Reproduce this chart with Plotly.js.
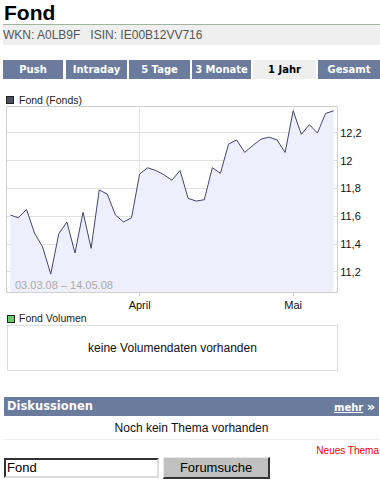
<!DOCTYPE html>
<html>
<head>
<meta charset="utf-8">
<script src="https://cdn.plot.ly/plotly-3.0.1.min.js"></script>
<style>
  html, body { margin:0; padding:0; background:#fff; width:380px; height:483px; overflow:hidden; }
  body { position:relative; font-family:"Liberation Sans", Arial, sans-serif; }
  .abs { position:absolute; }
  .tab { position:absolute; top:60px; height:19px; line-height:19px; background:#6b7b9d; color:#fff;
         font-family:"DejaVu Sans", Verdana, sans-serif; font-weight:bold; font-size:10px; text-align:center; }
  .tab.active { background:#efefef; color:#000; }
  .sq { position:absolute; width:6px; height:6px; border:1px solid #222; z-index:3; }
  .lg { position:absolute; font-size:10.5px; color:#222; line-height:12px; z-index:3; }
  #chart { z-index:1; }
</style>
</head>
<body>
<div class="abs" style="left:4px;top:2px;font-family:'Liberation Sans Narrow','Liberation Sans',Arial,sans-serif;font-weight:bold;font-size:21px;line-height:21px;color:#000;">Fond</div>
<div class="abs" style="left:3px;top:24px;width:377px;height:1px;background:#9fb59f;"></div>
<div class="abs" style="left:3px;top:25px;width:377px;height:20px;background:#efefef;"></div>
<div class="abs" style="left:3px;top:25px;height:20px;line-height:20px;font-size:12px;color:#555;white-space:pre;">WKN: A0LB9F   ISIN: IE00B12VV716</div>

<div class="tab" style="left:3px;width:60px;">Push</div>
<div class="tab" style="left:66px;width:61px;">Intraday</div>
<div class="tab" style="left:129px;width:61px;">5 Tage</div>
<div class="tab" style="left:192px;width:59px;">3 Monate</div>
<div class="tab active" style="left:253px;width:63px;">1 Jahr</div>
<div class="tab" style="left:318px;width:62px;">Gesamt</div>

<div id="chart" class="abs" style="left:0;top:100px;width:380px;height:215px;"></div>

<div class="sq" style="left:6px;top:96px;background:#4d4d66;"></div>
<div class="lg" style="left:19px;top:94px;">Fond (Fonds)</div>

<div class="sq" style="left:7px;top:315px;background:#66cc66;"></div>
<div class="lg" style="left:19px;top:312px;">Fond Volumen</div>
<div class="abs" style="left:7px;top:325px;width:329px;height:44px;border:1px solid #dddddd;text-align:center;line-height:44px;font-size:12px;color:#111;">keine Volumendaten vorhanden</div>

<div class="abs" style="left:4px;top:397px;width:375px;height:19px;background:#6b7b9d;"></div>
<div class="abs" style="left:7px;top:397px;height:19px;line-height:19px;color:#fff;font-family:'DejaVu Sans',Verdana,sans-serif;font-weight:bold;font-size:11.5px;">Diskussionen</div>
<div class="abs" style="left:334px;top:397px;height:19px;line-height:19px;color:#fff;font-family:'DejaVu Sans',Verdana,sans-serif;font-weight:bold;font-size:10px;"><span style="text-decoration:underline;">mehr</span>&nbsp;<span style="font-size:13px;">»</span></div>
<div class="abs" style="left:0;top:419px;width:383px;height:18px;line-height:18px;text-align:center;font-size:12px;color:#111;">Noch kein Thema vorhanden</div>
<div class="abs" style="left:4px;top:439px;width:375px;height:1px;background:#eeeeee;"></div>
<div class="abs" style="right:1px;top:445px;height:12px;line-height:12px;font-size:10px;color:#ee0000;">Neues Thema</div>
<div class="abs" style="left:4px;top:458px;width:150px;height:16px;border-top:2px solid #333;border-left:2px solid #333;border-bottom:2px solid #ddd;border-right:2px solid #ddd;background:#fff;font-size:13px;line-height:16px;padding-left:1px;color:#000;">Fond</div>
<div class="abs" style="left:163px;top:457px;width:104px;height:19px;background:#c0c0c0;border-top:1px solid #e8e8e8;border-left:1px solid #e8e8e8;border-bottom:2px solid #333;border-right:2px solid #333;text-align:center;line-height:19px;font-size:13px;color:#000;">Forumsuche</div>

<script>
// Fund price (Fonds), 03.03.08 – 14.05.08, one value per data point
const pointIndex = Array.from({length: 41}, (_, i) => i);
const fondValues = [11.61, 11.59, 11.65, 11.48, 11.38, 11.185, 11.475, 11.56, 11.337, 11.63,
                    11.37, 11.79, 11.76, 11.61, 11.56, 11.59, 11.905, 11.95, 11.93, 11.90,
                    11.86, 11.93, 11.73, 11.71, 11.72, 11.95, 11.91, 12.12, 12.15, 12.06,
                    12.11, 12.155, 12.17, 12.15, 12.06, 12.36, 12.19, 12.26, 12.20, 12.34, 12.36];
const monthTickIndex = [16, 35];
const monthTickLabels = ['April', 'Mai'];
const yTickValues = [11.2, 11.4, 11.6, 11.8, 12.0, 12.2];
const dateRangeLabel = '03.03.08 – 14.05.08';

const trace = {
  x: pointIndex,
  y: fondValues,
  type: 'scatter',
  mode: 'lines',
  line: {color: '#45456a', width: 1},
  fill: 'tozeroy',
  fillcolor: '#efeffc',
  hoverinfo: 'skip'
};

const layout = {
  width: 380, height: 215,
  margin: {l: 7, r: 43, t: 7, b: 23},
  paper_bgcolor: 'rgba(0,0,0,0)',
  plot_bgcolor: '#ffffff',
  separators: ', ',
  showlegend: false,
  font: {family: 'Liberation Sans, Arial, sans-serif', size: 11, color: '#222'},
  xaxis: {
    range: [-0.41, 40.42],
    tickvals: monthTickIndex,
    ticktext: monthTickLabels,
    showgrid: true, gridcolor: '#e2e2ea', gridwidth: 1,
    showline: true, mirror: true, linecolor: '#cfcfcf', linewidth: 1,
    ticks: 'outside', ticklen: 3, tickcolor: '#cfcfcf',
    zeroline: false, fixedrange: true,
    tickfont: {size: 11, color: '#111'}
  },
  yaxis: {
    range: [11.056, 12.387],
    side: 'right',
    tickvals: yTickValues,
    showgrid: true, gridcolor: '#e0e0e0', gridwidth: 1,
    showline: true, mirror: true, linecolor: '#cfcfcf', linewidth: 1,
    ticks: '', zeroline: false, fixedrange: true,
    tickfont: {size: 11, color: '#111'}
  },
  annotations: [{
    xref: 'paper', yref: 'paper', x: 0.019, y: 0.04,
    xanchor: 'left', yanchor: 'middle', showarrow: false,
    text: dateRangeLabel,
    font: {size: 11, color: '#a8a8a8'}
  }]
};

Plotly.newPlot('chart', [trace], layout, {staticPlot: true, displayModeBar: false});
</script>
</body>
</html>
